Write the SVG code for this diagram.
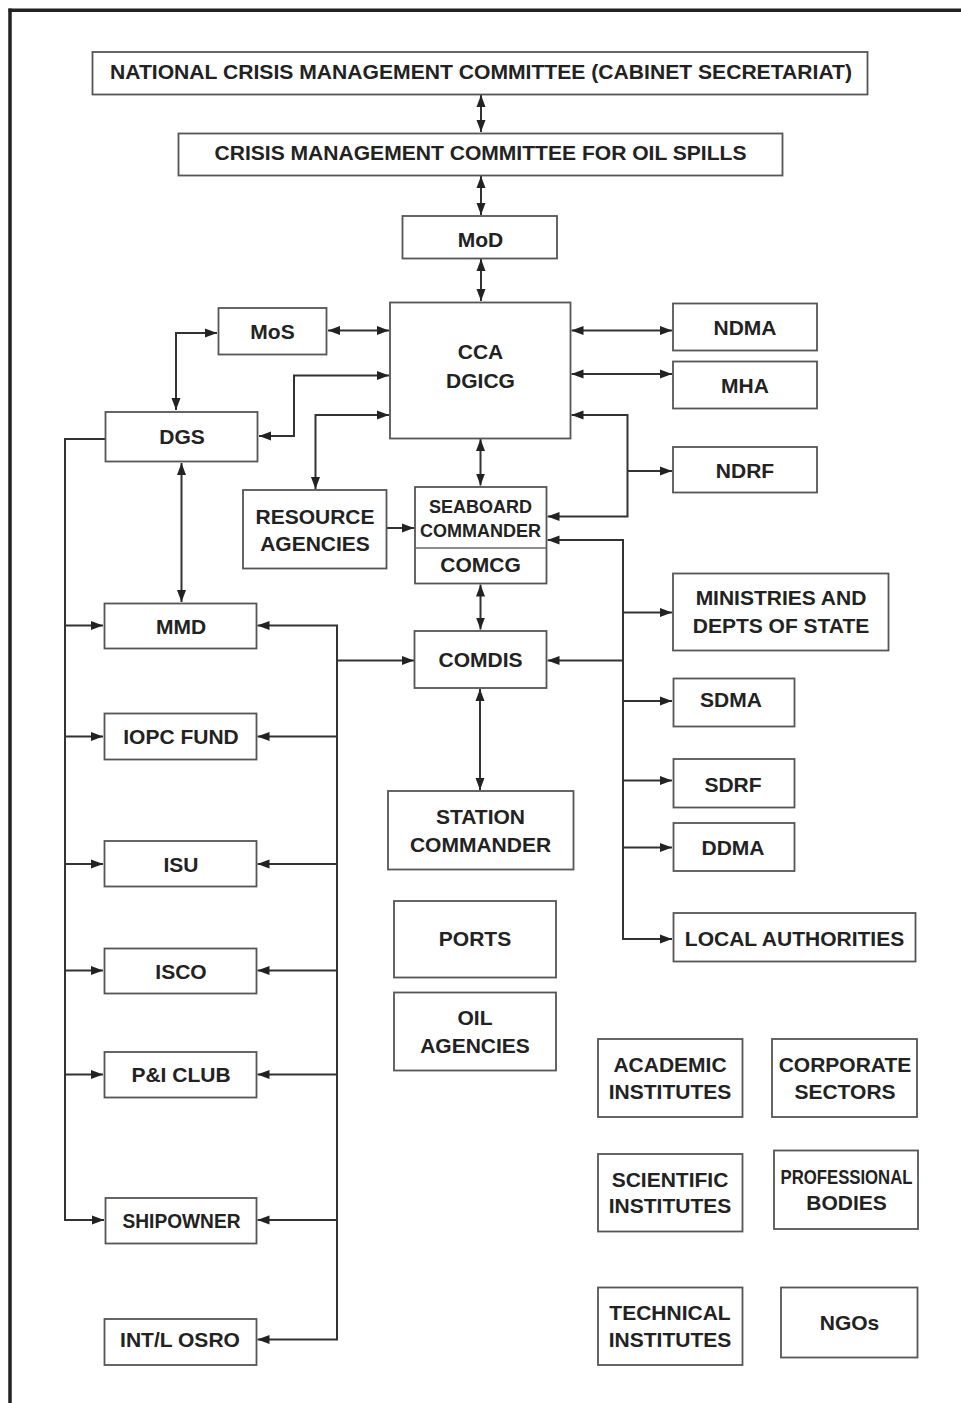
<svg xmlns="http://www.w3.org/2000/svg" width="961" height="1403" viewBox="0 0 961 1403">
<style>
.box{fill:#fff;stroke:#555;stroke-width:1.8}
.t{font-family:"Liberation Sans",Arial,sans-serif;font-weight:bold;font-size:21px;fill:#222;text-anchor:middle}
.s{font-size:18px}
.c{fill:none;stroke:#333;stroke-width:2}
.a2{marker-start:url(#ah);marker-end:url(#ah)}
.a1{marker-end:url(#ah)}
.a0{marker-start:url(#ah)}
</style>
<defs>
<marker id="ah" markerUnits="userSpaceOnUse" markerWidth="12" markerHeight="10" viewBox="0 0 12 10" refX="12" refY="5" orient="auto-start-reverse">
<path d="M0,0.5 L12,5 L0,9.5 z" fill="#222"/>
</marker>
</defs>
<rect width="961" height="1403" fill="#fff"/>
<g id="frame" fill="none" stroke="#222" stroke-width="3.5">
<path d="M8.5 10.3 H961"/>
<path d="M10 8.5 V1403"/>
</g>
<g id="connectors">
<path class="c a2" d="M481 95 V132"/>
<path class="c a2" d="M481 176 V215"/>
<path class="c a2" d="M481 259 V301"/>
<path class="c a2" d="M328 330.5 H389"/>
<path class="c a2" d="M176 410 V333 H217"/>
<path class="c a2" d="M389 375.5 H294 V436 H259"/>
<path class="c a2" d="M389 415 H315.5 V489"/>
<path class="c a1" d="M387 528 H414"/>
<path class="c a2" d="M480.5 439 V485.5"/>
<path class="c a2" d="M571.5 330.5 H672"/>
<path class="c a2" d="M571.5 374 H672"/>
<path class="c a2" d="M571.5 415 H627.5 V516.5 H547.5"/>
<path class="c a1" d="M627.5 471 H672"/>
<path class="c a2" d="M547.5 540 H623 V939 H672"/>
<path class="c a1" d="M623 612.5 H672"/>
<path class="c a1" d="M623 660.5 H547.5"/>
<path class="c a1" d="M623 701 H672"/>
<path class="c a1" d="M623 780.5 H672"/>
<path class="c a1" d="M623 847.5 H672"/>
<path class="c a2" d="M480.5 584.5 V629.5"/>
<path class="c a2" d="M480 689 V790"/>
<path class="c a2" d="M181.5 463 V602"/>
<path class="c a1" d="M105 439 H65 V1220 H104"/>
<path class="c a1" d="M65 625.5 H103"/>
<path class="c a1" d="M65 736.5 H103"/>
<path class="c a1" d="M65 864 H103"/>
<path class="c a1" d="M65 970.5 H103"/>
<path class="c a1" d="M65 1074.5 H103"/>
<path class="c a1" d="M337 660.5 H414"/>
<path class="c a2" d="M257.5 625.5 H337 V1339.5 H257.5"/>
<path class="c a1" d="M337 736.5 H257.5"/>
<path class="c a1" d="M337 864 H257.5"/>
<path class="c a1" d="M337 970.5 H257.5"/>
<path class="c a1" d="M337 1074.5 H257.5"/>
<path class="c a1" d="M337 1220 H257.5"/>
</g>
<g id="ncmc"><rect class="box" x="92.5" y="52" width="775" height="42.5"/><text class="t" x="481" y="78.5" textLength="742" lengthAdjust="spacingAndGlyphs">NATIONAL CRISIS MANAGEMENT COMMITTEE (CABINET SECRETARIAT)</text></g>
<g id="cmc"><rect class="box" x="178.5" y="133.5" width="604" height="42"/><text class="t" x="480.5" y="160" textLength="532" lengthAdjust="spacingAndGlyphs">CRISIS MANAGEMENT COMMITTEE FOR OIL SPILLS</text></g>
<g id="mod"><rect class="box" x="402.5" y="216" width="154.5" height="42.5"/><text class="t" x="480.5" y="246.5">MoD</text></g>
<g id="mos"><rect class="box" x="218.5" y="308" width="108" height="46.5"/><text class="t" x="272.5" y="338.5">MoS</text></g>
<g id="cca"><rect class="box" x="390" y="302.5" width="180.5" height="136"/><text class="t" x="480.5" y="359">CCA</text><text class="t" x="480.5" y="387.5">DGICG</text></g>
<g id="ndma"><rect class="box" x="673" y="303.5" width="144" height="47"/><text class="t" x="745" y="334.5">NDMA</text></g>
<g id="mha"><rect class="box" x="673" y="361.5" width="144" height="47"/><text class="t" x="745" y="392.5">MHA</text></g>
<g id="dgs"><rect class="box" x="105.5" y="412" width="152" height="49.5"/><text class="t" x="182" y="444">DGS</text></g>
<g id="ndrf"><rect class="box" x="673" y="447" width="144" height="45.5"/><text class="t" x="745" y="477.5">NDRF</text></g>
<g id="resource"><rect class="box" x="243" y="490" width="143.5" height="78.5"/><text class="t" x="315" y="523.5">RESOURCE</text><text class="t" x="315" y="551">AGENCIES</text></g>
<g id="seaboard"><rect class="box" x="415" y="487" width="131.5" height="96.5"/><path d="M415 548 H546.5" stroke="#666" stroke-width="1.3"/><text class="t s" x="480.5" y="513">SEABOARD</text><text class="t s" x="480.5" y="537">COMMANDER</text><text class="t" x="480.5" y="572">COMCG</text></g>
<g id="ministries"><rect class="box" x="673" y="573.5" width="215.5" height="77"/><text class="t" x="781" y="605">MINISTRIES AND</text><text class="t" x="781" y="633">DEPTS OF STATE</text></g>
<g id="mmd"><rect class="box" x="104.5" y="603.5" width="152" height="45"/><text class="t" x="181" y="633.5">MMD</text></g>
<g id="comdis"><rect class="box" x="414.5" y="631" width="132" height="57"/><text class="t" x="480.5" y="667">COMDIS</text></g>
<g id="sdma"><rect class="box" x="673.5" y="678.5" width="121" height="48"/><text class="t" x="731" y="707">SDMA</text></g>
<g id="iopc"><rect class="box" x="104.5" y="713.5" width="152" height="46"/><text class="t" x="181" y="744">IOPC FUND</text></g>
<g id="sdrf"><rect class="box" x="673.5" y="759" width="121" height="48.5"/><text class="t" x="733" y="792">SDRF</text></g>
<g id="station"><rect class="box" x="388" y="791" width="185.5" height="78.5"/><text class="t" x="480.5" y="823.5">STATION</text><text class="t" x="480.5" y="852">COMMANDER</text></g>
<g id="ddma"><rect class="box" x="673.5" y="823" width="121" height="48"/><text class="t" x="733" y="855">DDMA</text></g>
<g id="isu"><rect class="box" x="104.5" y="841" width="152" height="45.5"/><text class="t" x="181" y="872">ISU</text></g>
<g id="ports"><rect class="box" x="394" y="901" width="162" height="76.5"/><text class="t" x="475" y="946">PORTS</text></g>
<g id="local"><rect class="box" x="673.5" y="913" width="242" height="48.5"/><text class="t" x="794.5" y="946">LOCAL AUTHORITIES</text></g>
<g id="isco"><rect class="box" x="104.5" y="948.5" width="152" height="45"/><text class="t" x="181" y="978.5">ISCO</text></g>
<g id="oil"><rect class="box" x="394" y="992.5" width="162" height="78"/><text class="t" x="475" y="1025">OIL</text><text class="t" x="475" y="1052.5">AGENCIES</text></g>
<g id="academic"><rect class="box" x="598" y="1039" width="144.5" height="78"/><text class="t" x="670" y="1072">ACADEMIC</text><text class="t" x="670" y="1098.5">INSTITUTES</text></g>
<g id="corporate"><rect class="box" x="772" y="1039" width="145" height="78"/><text class="t" x="845" y="1072">CORPORATE</text><text class="t" x="845" y="1098.5">SECTORS</text></g>
<g id="pandi"><rect class="box" x="104.5" y="1052" width="152" height="45.5"/><text class="t" x="181" y="1082">P&amp;I CLUB</text></g>
<g id="scientific"><rect class="box" x="598" y="1154" width="144.5" height="77.5"/><text class="t" x="670" y="1187">SCIENTIFIC</text><text class="t" x="670" y="1213">INSTITUTES</text></g>
<g id="professional"><rect class="box" x="774" y="1150.5" width="144" height="78.5"/><text class="t" x="846.5" y="1183.5" textLength="132" lengthAdjust="spacingAndGlyphs">PROFESSIONAL</text><text class="t" x="846.5" y="1210">BODIES</text></g>
<g id="shipowner"><rect class="box" x="105.5" y="1198" width="151" height="45.5"/><text class="t" x="181.5" y="1227.5" textLength="118" lengthAdjust="spacingAndGlyphs">SHIPOWNER</text></g>
<g id="technical"><rect class="box" x="598" y="1287.5" width="144.5" height="77.5"/><text class="t" x="670" y="1320">TECHNICAL</text><text class="t" x="670" y="1347">INSTITUTES</text></g>
<g id="ngos"><rect class="box" x="781" y="1287.5" width="136.5" height="70"/><text class="t" x="849.5" y="1330">NGOs</text></g>
<g id="osro"><rect class="box" x="104.5" y="1319" width="152" height="46"/><text class="t" x="180" y="1347">INT/L OSRO</text></g>
</svg>
